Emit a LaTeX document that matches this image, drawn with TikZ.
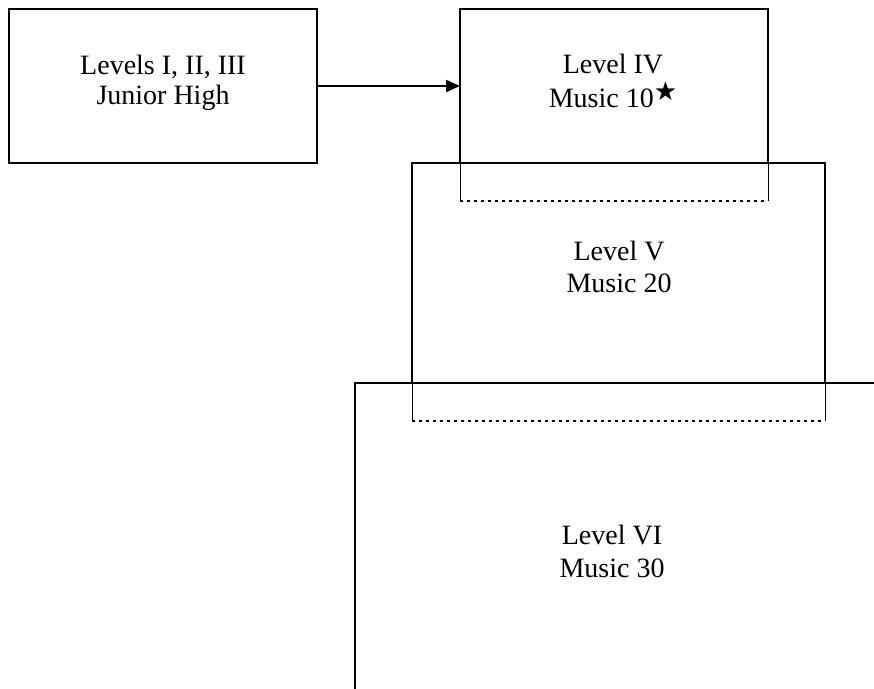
\documentclass[tikz,border=0pt]{standalone}
\usepackage{fontspec}
\setmainfont{Liberation Serif}
\newfontfamily\dejavu{DejaVu Sans}
\usetikzlibrary{arrows.meta}
\begin{document}
\begin{tikzpicture}[x=1pt,y=-1pt,
  txt/.style={font=\fontsize{28}{31}\selectfont, anchor=base, inner sep=0pt},
  area/.style={inner sep=0pt, outer sep=0pt},
  boldline/.style={line width=2pt, line cap=rect},
  thinline/.style={line width=1pt},
  dotline/.style={line width=2pt, dash pattern=on 3pt off 4pt},
  tip/.style={-{Triangle[length=14pt,width=12pt]}}]
\useasboundingbox[fill=white] (0,0) rectangle (874,688);
% boxes
\node[area, draw, line width=2pt, minimum width=308pt, minimum height=154pt] (b1) at (163,86) {};
\node[area, minimum width=308pt, minimum height=192pt] (b4) at (614,105) {};
\node[area, minimum width=413pt, minimum height=258pt] (b5) at (618.5,292) {};
\node[area, minimum width=520pt, minimum height=310pt] (b6) at (614.5,538) {};
% level IV
\draw[boldline] (b4.west |- b5.north) -- (b4.north west) -- (b4.north east) -- (b4.east |- b5.north);
\draw[thinline] (b4.west |- b5.north) -- (b4.south west);
\draw[thinline] (b4.east |- b5.north) -- (b4.south east);
\draw[dotline] (b4.south west) -- (b4.south east);
% level V
\draw[boldline] (b5.west |- b6.north) -- (b5.north west) -- (b5.north east) -- (b5.east |- b6.north);
\draw[thinline] (b5.west |- b6.north) -- (b5.south west);
\draw[thinline] (b5.east |- b6.north) -- (b5.south east);
\draw[dotline] (b5.south west) -- (b5.south east);
% level VI
\draw[boldline] (b6.south west) -- (b6.north west) -- (b6.north east);
% arrow
\draw[line width=2pt, tip] (b1.east) -- (b1.east -| b4.west);
% texts
\node[txt] (t1a) at (163,74) {Levels I, II, III};
\node[txt] (t1b) at (163,104) {Junior High};
\node[txt] (t4a) at (613,73) {Level IV};
\node[txt] (t4b) at (613,107) {Music 10\raisebox{7pt}{\dejavu\fontsize{26}{26}\selectfont ★}};
\node[txt] (t5a) at (619,260) {Level V};
\node[txt] (t5b) at (619,292) {Music 20};
\node[txt] (t6a) at (612,544) {Level VI};
\node[txt] (t6b) at (612,577) {Music 30};
\end{tikzpicture}
\end{document}
